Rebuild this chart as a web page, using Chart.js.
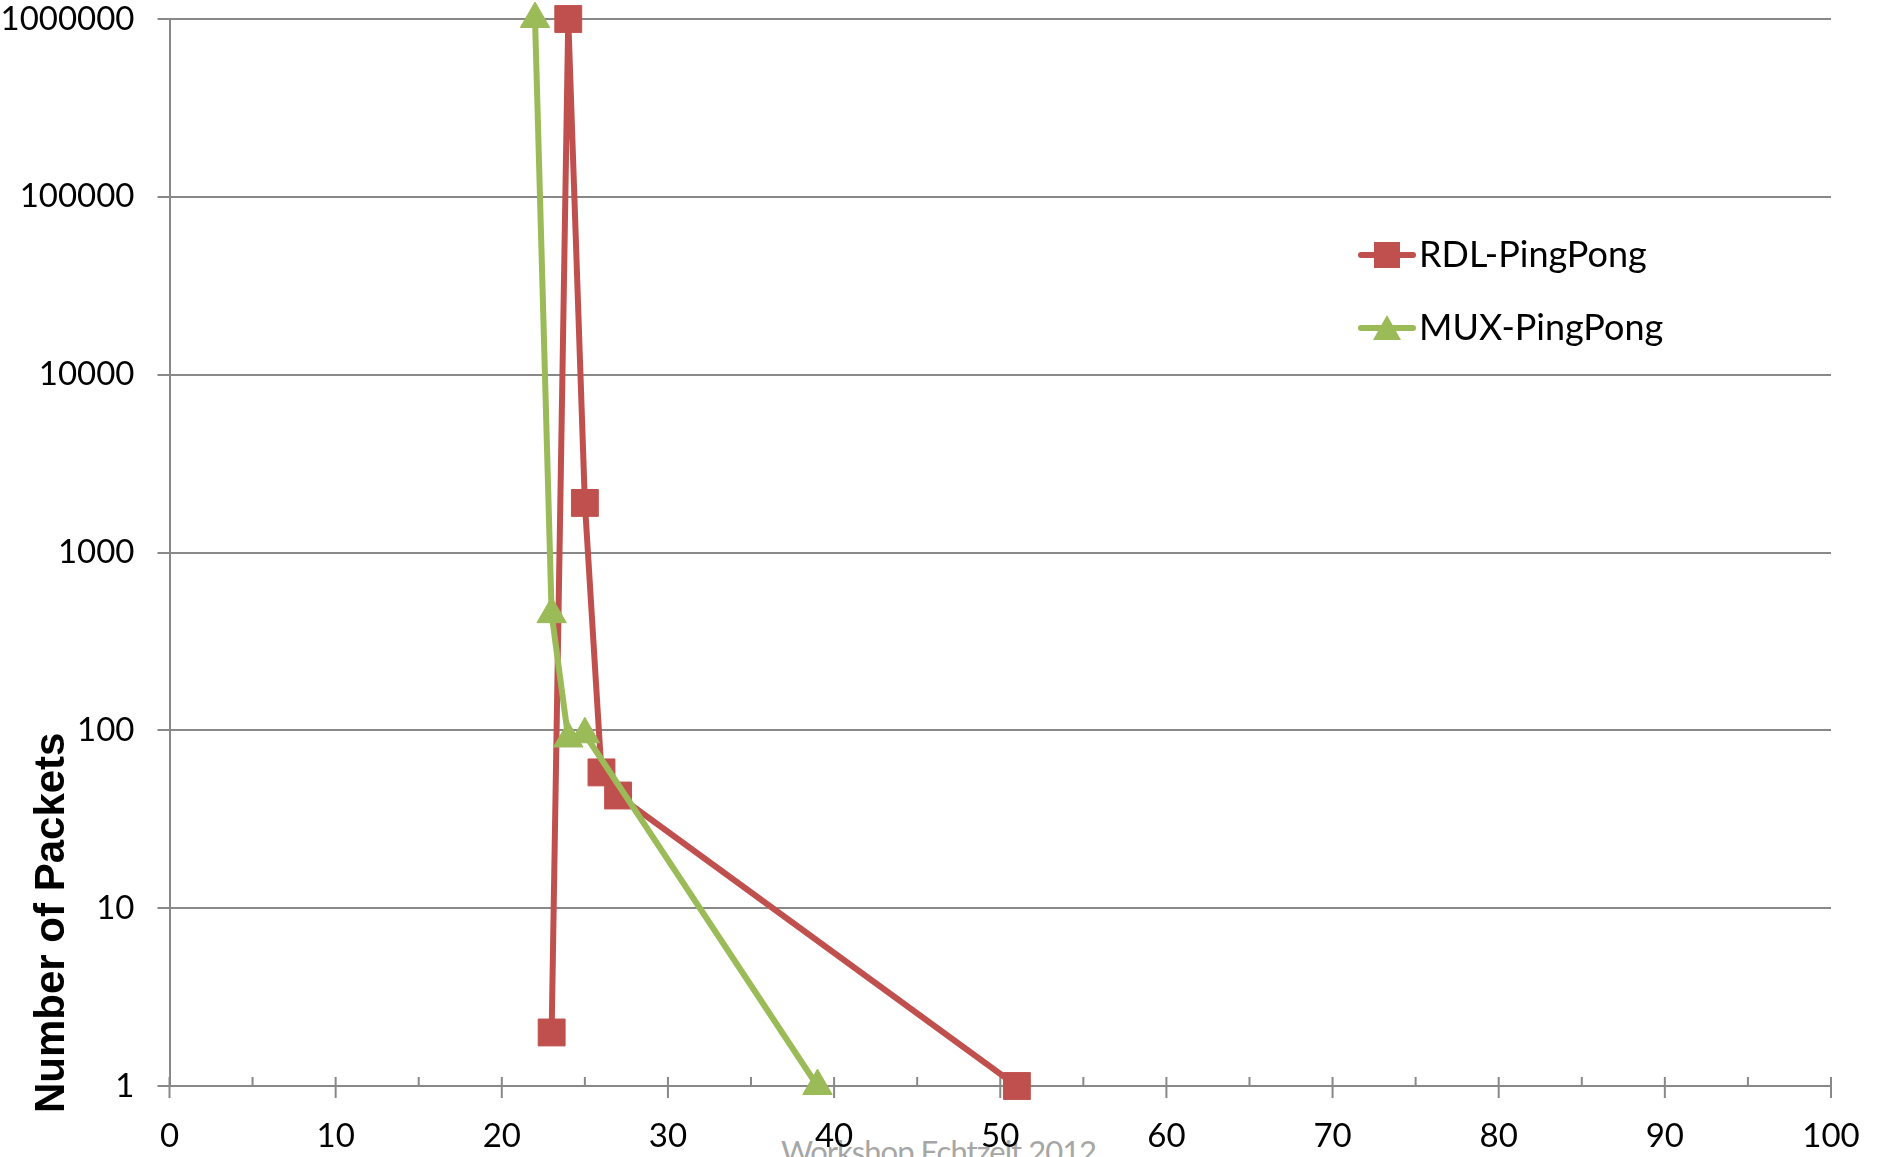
<!DOCTYPE html>
<html>
<head>
<meta charset="utf-8">
<script src="https://cdn.jsdelivr.net/npm/chart.js@4.4.0/dist/chart.umd.min.js"></script>
<style>
body { margin: 0; overflow: hidden; background: #fff; }
#wrap { position: relative; width: 1877px; height: 1157px; overflow: hidden; }
#myChart { position: absolute; left: 0; top: 0; }
#ytitel { position: absolute; left: 29px; top: 1113px; font: bold 42px "Liberation Sans"; line-height: 42px; white-space: nowrap; transform: rotate(-90deg); transform-origin: left top; color: #000; }
#watermerk { position: absolute; left: 0; top: 1136px; width: 1877px; text-align: center; font: 31px Lato; letter-spacing: -1px; line-height: 31px; color: #a6a6a6; }
</style>
</head>
<body>
<div id="wrap">
  <div id="watermerk">Workshop Echtzeit 2012</div>
  <canvas id="myChart" width="1877" height="1157"></canvas>
  <div id="ytitel">Number of Packets</div>
</div>
<script>
/* meetwaarden */
var rdlX = [23, 24, 25, 26, 27, 51];
var rdlY = [2, 1000000, 1900, 58, 43, 1];
var muxX = [22, 23, 24, 25, 39];
var muxY = [1000000, 450, 90, 95, 1];

var reeksen = ['RDL-PingPong', 'MUX-PingPong'];
var yTicks = [1, 10, 100, 1000, 10000, 100000, 1000000];

function punten(xs, ys) {
    return xs.map(function(x, i) { return { x: x, y: ys[i] }; });
}

/* streepjes op de x-as: lang bij tientallen, kort bij vijftallen */
var xStreepjes = {
    id: 'xStreepjes',
    beforeDatasetsDraw: function(chart) {
        var s = chart.scales.x, ctx = chart.ctx, y0 = chart.chartArea.bottom;
        ctx.save();
        ctx.strokeStyle = '#888';
        ctx.lineWidth = 2;
        s.ticks.forEach(function(t) {
            var px = s.getPixelForValue(t.value);
            var groot = t.value % 10 === 0;
            ctx.beginPath();
            ctx.moveTo(px, y0 - 9);
            ctx.lineTo(px, groot ? y0 + 12 : y0);
            ctx.stroke();
        });
        ctx.restore();
    }
};

/* legenda rechts in het grafiekvlak */
var legenda = {
    id: 'legenda',
    afterDraw: function(chart) {
        var ctx = chart.ctx;
        chart.data.datasets.forEach(function(ds, i) {
            var y = 255 + i * 73;
            ctx.save();
            ctx.strokeStyle = ds.borderColor;
            ctx.lineWidth = 6;
            ctx.lineCap = 'round';
            ctx.beginPath();
            ctx.moveTo(1361, y);
            ctx.lineTo(1413, y);
            ctx.stroke();
            ctx.fillStyle = ds.backgroundColor;
            if (ds.pointStyle === 'rect') {
                ctx.fillRect(1374, y - 13, 26, 26);
            } else {
                ctx.beginPath();
                ctx.moveTo(1387, y - 13);
                ctx.lineTo(1401, y + 12);
                ctx.lineTo(1373, y + 12);
                ctx.closePath();
                ctx.fill();
            }
            ctx.fillStyle = '#000';
            ctx.font = '36px Lato';
            ctx.textBaseline = 'middle';
            ctx.fillText(ds.label, 1419, y);
            ctx.restore();
        });
    }
};

var ctx = document.getElementById('myChart').getContext('2d');
var chart = new Chart(ctx, {
    type: 'line',
    data: {
        datasets: [{
            label: reeksen[0],
            data: punten(rdlX, rdlY),
            borderColor: '#C0504D',
            backgroundColor: '#C0504D',
            borderWidth: 6,
            pointStyle: 'rect',
            pointRadius: 19,
            pointBorderWidth: 1,
            order: 2,
            clip: false
        }, {
            label: reeksen[1],
            data: punten(muxX, muxY),
            borderColor: '#9BBB59',
            backgroundColor: '#9BBB59',
            borderWidth: 6,
            pointStyle: 'triangle',
            pointRadius: 17,
            pointBorderWidth: 1,
            order: 1,
            clip: false
        }]
    },
    options: {
        responsive: false,
        animation: false,
        devicePixelRatio: 1,
        layout: { autoPadding: false, padding: { top: 19, right: 46, left: 0, bottom: 0 } },
        elements: { line: { tension: 0 } },
        plugins: {
            legend: { display: false },
            tooltip: { enabled: false }
        },
        scales: {
            x: {
                type: 'linear',
                min: 0,
                max: 100,
                ticks: {
                    stepSize: 5,
                    autoSkip: false,
                    maxRotation: 0,
                    padding: 31,
                    color: '#000',
                    font: { family: 'Lato', size: 33 },
                    callback: function(v) { return v % 10 === 0 ? String(v) : ''; }
                },
                grid: { display: false, drawTicks: false },
                border: { display: false },
                afterFit: function(s) {
                    s.height = 71;
                    s.paddingLeft = 0;
                    s.paddingRight = 0;
                }
            },
            y: {
                type: 'logarithmic',
                min: 1,
                max: 1000000,
                afterBuildTicks: function(s) {
                    s.ticks = yTicks.map(function(v) { return { value: v }; });
                },
                ticks: {
                    padding: 23,
                    color: '#000',
                    font: { family: 'Lato', size: 33, lineHeight: 1 },
                    callback: function(v) { return String(v); }
                },
                grid: { color: '#888', lineWidth: 2, tickLength: 12 },
                border: { color: '#888', width: 2 },
                afterFit: function(s) {
                    s.width = 169.5;
                    s.paddingTop = 0;
                    s.paddingBottom = 0;
                }
            }
        }
    },
    plugins: [xStreepjes, legenda]
});
</script>
</body>
</html>
